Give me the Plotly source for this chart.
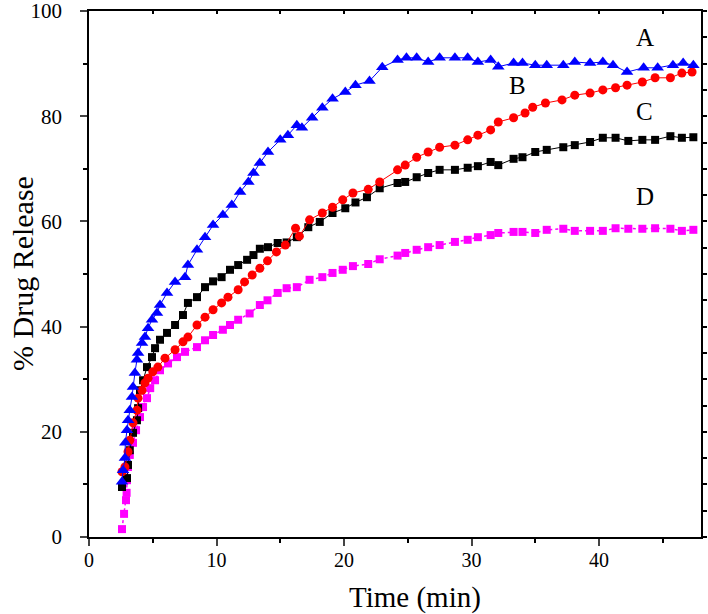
import plotly.graph_objects as go

# Series A (blue triangles)
a_time = [2.59, 2.67, 2.82, 2.85, 2.98, 3.06, 3.2, 3.37, 3.45, 3.6, 3.76, 3.85, 4.16, 4.39, 4.63, 4.94,
          5.33, 5.57, 6.12, 6.75, 7.53, 7.76, 8.47, 9.1, 9.73, 10.5, 11.2, 11.85, 12.5, 12.9, 13.4, 14.04,
          15.0, 15.6, 16.3, 16.7, 17.5, 18.3, 19.1, 20.1, 20.9, 22.0, 23.0, 24.2, 24.9, 25.7, 26.6, 27.5,
          28.7, 29.7, 30.5, 31.5, 32.1, 33.3, 34.0, 35.0, 35.9, 37.2, 38.1, 39.3, 40.3, 41.1, 42.2, 43.5,
          44.6, 45.8, 46.6, 47.4]
a_release = [10.5, 12.7, 15.0, 17.9, 20.3, 22.2, 24.1, 26.6, 28.5, 31.2, 33.7, 35.0, 36.9, 38.0, 39.7, 41.3,
             42.6, 44.1, 46.4, 48.5, 49.4, 51.7, 54.6, 57.0, 59.3, 61.2, 63.1, 65.6, 67.5, 69.2, 71.1, 73.2,
             75.5, 76.4, 78.3, 77.8, 79.7, 81.6, 83.3, 84.6, 85.9, 86.7, 89.3, 90.7, 91.1, 91.1, 90.3, 91.1,
             91.1, 91.1, 90.3, 90.7, 89.4, 90.1, 90.1, 89.7, 89.7, 89.7, 90.3, 90.1, 90.3, 89.7, 88.4, 89.2,
             89.2, 89.7, 90.1, 89.7]

# Series B (red circles)
b_time = [2.59, 2.82, 3.06, 3.2, 3.45, 3.76, 3.85, 4.16, 4.39, 4.63, 5.0, 5.4, 5.96, 6.75, 7.37, 7.76,
          8.47, 9.1, 9.73, 10.4, 10.9, 11.7, 12.2, 12.8, 13.4, 14.0, 14.7, 15.4, 16.2, 16.5, 17.3, 18.3,
          19.1, 19.9, 20.7, 21.9, 22.8, 24.2, 24.8, 25.7, 26.6, 27.5, 28.7, 29.7, 30.5, 31.5, 32.1, 33.3,
          34.2, 34.8, 35.8, 37.1, 38.1, 39.3, 40.3, 41.3, 42.2, 43.4, 44.4, 45.6, 46.5, 47.3]
b_release = [12.4, 13.3, 16.2, 18.4, 21.7, 24.1, 26.4, 27.9, 29.3, 30.2, 31.4, 32.3, 34.0, 35.6, 37.1, 38.0,
             40.3, 41.8, 43.2, 44.5, 45.6, 47.0, 48.5, 49.8, 51.1, 52.5, 54.2, 55.5, 58.7, 57.2, 60.3, 61.6,
             62.7, 64.1, 65.4, 66.1, 67.5, 69.8, 70.7, 72.2, 73.2, 74.1, 74.5, 75.5, 76.4, 77.4, 78.9, 79.7,
             80.6, 81.7, 82.5, 83.1, 84.0, 84.4, 85.0, 85.4, 85.9, 86.5, 87.3, 87.3, 88.2, 88.4]

# Series C (black squares)
c_time = [2.59, 2.98, 3.06, 3.2, 3.45, 3.76, 3.85, 4.0, 4.24, 4.55, 4.94, 5.18, 5.57, 6.12, 6.75, 7.37,
          7.76, 8.47, 9.1, 9.73, 10.4, 11.06, 11.7, 12.4, 12.9, 13.4, 14.04, 14.8, 15.5, 16.3, 17.2, 18.1,
          19.1, 20.1, 20.9, 21.8, 22.8, 24.2, 24.8, 25.7, 26.6, 27.5, 28.7, 29.7, 30.5, 31.5, 32.1, 33.3,
          34.0, 35.0, 35.9, 37.2, 38.1, 39.3, 40.3, 41.3, 42.3, 43.4, 44.4, 45.6, 46.5, 47.4]
c_release = [9.5, 11.2, 13.7, 16.5, 19.8, 22.2, 24.5, 27.9, 29.8, 32.3, 34.2, 35.9, 37.5, 38.8, 40.3, 42.2,
             44.5, 45.6, 47.5, 48.6, 49.4, 50.8, 51.7, 52.7, 53.6, 54.8, 55.1, 55.9, 56.0, 57.0, 58.9, 59.9,
             61.6, 62.5, 63.6, 64.6, 66.3, 67.3, 67.5, 68.4, 69.2, 69.8, 69.8, 70.2, 70.5, 71.3, 70.7, 71.9,
             72.2, 73.2, 73.6, 74.1, 74.5, 75.1, 75.9, 75.9, 75.3, 75.5, 75.5, 76.2, 75.9, 76.0]

# Series D (magenta squares)
d_time = [2.59, 2.75, 2.9, 2.95, 2.98, 3.06, 3.2, 3.45, 3.69, 4.0, 4.24, 4.55, 4.8, 5.18, 5.57, 6.2,
          6.9, 7.53, 8.47, 9.1, 9.73, 10.5, 11.06, 11.7, 12.6, 13.4, 14.0, 14.8, 15.5, 16.3, 17.3, 18.3,
          19.1, 19.9, 20.7, 21.9, 22.8, 24.2, 24.8, 25.7, 26.6, 27.5, 28.7, 29.7, 30.5, 31.5, 32.1, 33.3,
          34.0, 35.0, 35.9, 37.2, 38.1, 39.3, 40.3, 41.3, 42.3, 43.4, 44.4, 45.6, 46.5, 47.4]
d_release = [1.5, 4.4, 7.0, 8.4, 10.8, 13.3, 15.6, 17.9, 20.3, 22.8, 24.7, 26.4, 28.3, 29.8, 31.7, 33.0,
             34.2, 35.2, 36.1, 37.4, 38.4, 39.4, 40.3, 41.3, 42.5, 44.1, 45.0, 46.4, 47.3, 47.5, 48.9, 49.4,
             50.2, 50.8, 51.5, 51.9, 52.8, 53.5, 54.0, 54.6, 55.1, 55.5, 56.1, 56.5, 57.0, 57.4, 57.8, 58.0,
             58.0, 57.8, 58.4, 58.6, 58.2, 58.2, 58.2, 58.7, 58.6, 58.6, 58.7, 58.6, 58.2, 58.4]

series_labels = ["A", "B", "C", "D"]
label_x = [43.6, 33.6, 43.6, 43.6]
label_y = [95.0, 85.8, 80.9, 64.8]

x_ticks = [0, 10, 20, 30, 40]
y_ticks = [0, 20, 40, 60, 80, 100]

FONT = "Liberation Serif, Times New Roman, serif"

fig = go.Figure()
fig.add_trace(go.Scatter(x=d_time, y=d_release, mode="lines+markers",
                         line=dict(color="#ff00ff", width=1.5, dash="dot"),
                         marker=dict(symbol="square", size=8, color="#ff00ff")))
fig.add_trace(go.Scatter(x=c_time, y=c_release, mode="lines+markers",
                         line=dict(color="black", width=1),
                         marker=dict(symbol="square", size=8, color="black")))
fig.add_trace(go.Scatter(x=b_time, y=b_release, mode="lines+markers",
                         line=dict(color="#ff0000", width=1),
                         marker=dict(symbol="circle", size=9, color="#ff0000")))
fig.add_trace(go.Scatter(x=a_time, y=a_release, mode="lines+markers",
                         line=dict(color="#0000ff", width=1),
                         marker=dict(symbol="triangle-up", size=11, color="#0000ff")))
fig.add_trace(go.Scatter(x=[], y=[], xaxis="x2", yaxis="y2", showlegend=False))

for lab, lx, ly in zip(series_labels, label_x, label_y):
    fig.add_annotation(x=lx, y=ly, text=lab, showarrow=False,
                       font=dict(family=FONT, size=25, color="black"))

# Axis titles
fig.add_annotation(xref="paper", yref="paper", x=0.5, y=0, xshift=20, yshift=-60, text="Time (min)",
                   showarrow=False, xanchor="center", yanchor="middle",
                   font=dict(family=FONT, size=29, color="black"))
fig.add_annotation(xref="paper", yref="paper", x=0, y=0.5, xshift=-67, text="% Drug Release",
                   textangle=-90, showarrow=False, xanchor="center", yanchor="middle",
                   font=dict(family=FONT, size=30, color="black"))

fig.update_layout(
    width=708, height=614,
    margin=dict(l=89, r=7, t=11, b=77),
    paper_bgcolor="white", plot_bgcolor="white",
    showlegend=False,
    font=dict(family=FONT, color="black"),
    xaxis=dict(range=[0, 48], tickvals=x_ticks, ticks="outside", ticklen=7, tickwidth=1.5,
               showline=True, linewidth=1.5, linecolor="black", mirror=True, showgrid=False,
               zeroline=False, tickfont=dict(family=FONT, size=20, color="black"),
               minor=dict(dtick=5, tick0=0, ticks="outside", ticklen=4, tickwidth=1.5, tickcolor="black"),
               ticklabelstandoff=-3, automargin=False, ticklabeloverflow="allow"),
    yaxis=dict(range=[0, 100], tickvals=y_ticks, ticks="outside", ticklen=7, tickwidth=1.5,
               showline=True, linewidth=1.5, linecolor="black", mirror=True, showgrid=False,
               zeroline=False, tickfont=dict(family=FONT, size=21, color="black"),
               minor=dict(dtick=10, tick0=0, ticks="outside", ticklen=4, tickwidth=1.5, tickcolor="black"),
               ticklabelstandoff=14, automargin=False, ticklabeloverflow="allow"),
    xaxis2=dict(range=[0, 48], overlaying="x", side="top", anchor="y", dtick=5, tick0=0,
                ticks="inside", ticklen=3, tickwidth=1.5, tickcolor="black", showticklabels=False,
                showgrid=False, zeroline=False, showline=False, automargin=False),
    yaxis2=dict(range=[0, 100], overlaying="y", side="right", anchor="x", dtick=5, tick0=0,
                ticks="outside", ticklen=5, tickwidth=1.5, tickcolor="black", showticklabels=False,
                showgrid=False, zeroline=False, showline=False, automargin=False),
)

fig.write_html("out.html", config={"displayModeBar": False},
               post_script="document.body.style.margin='0';")
